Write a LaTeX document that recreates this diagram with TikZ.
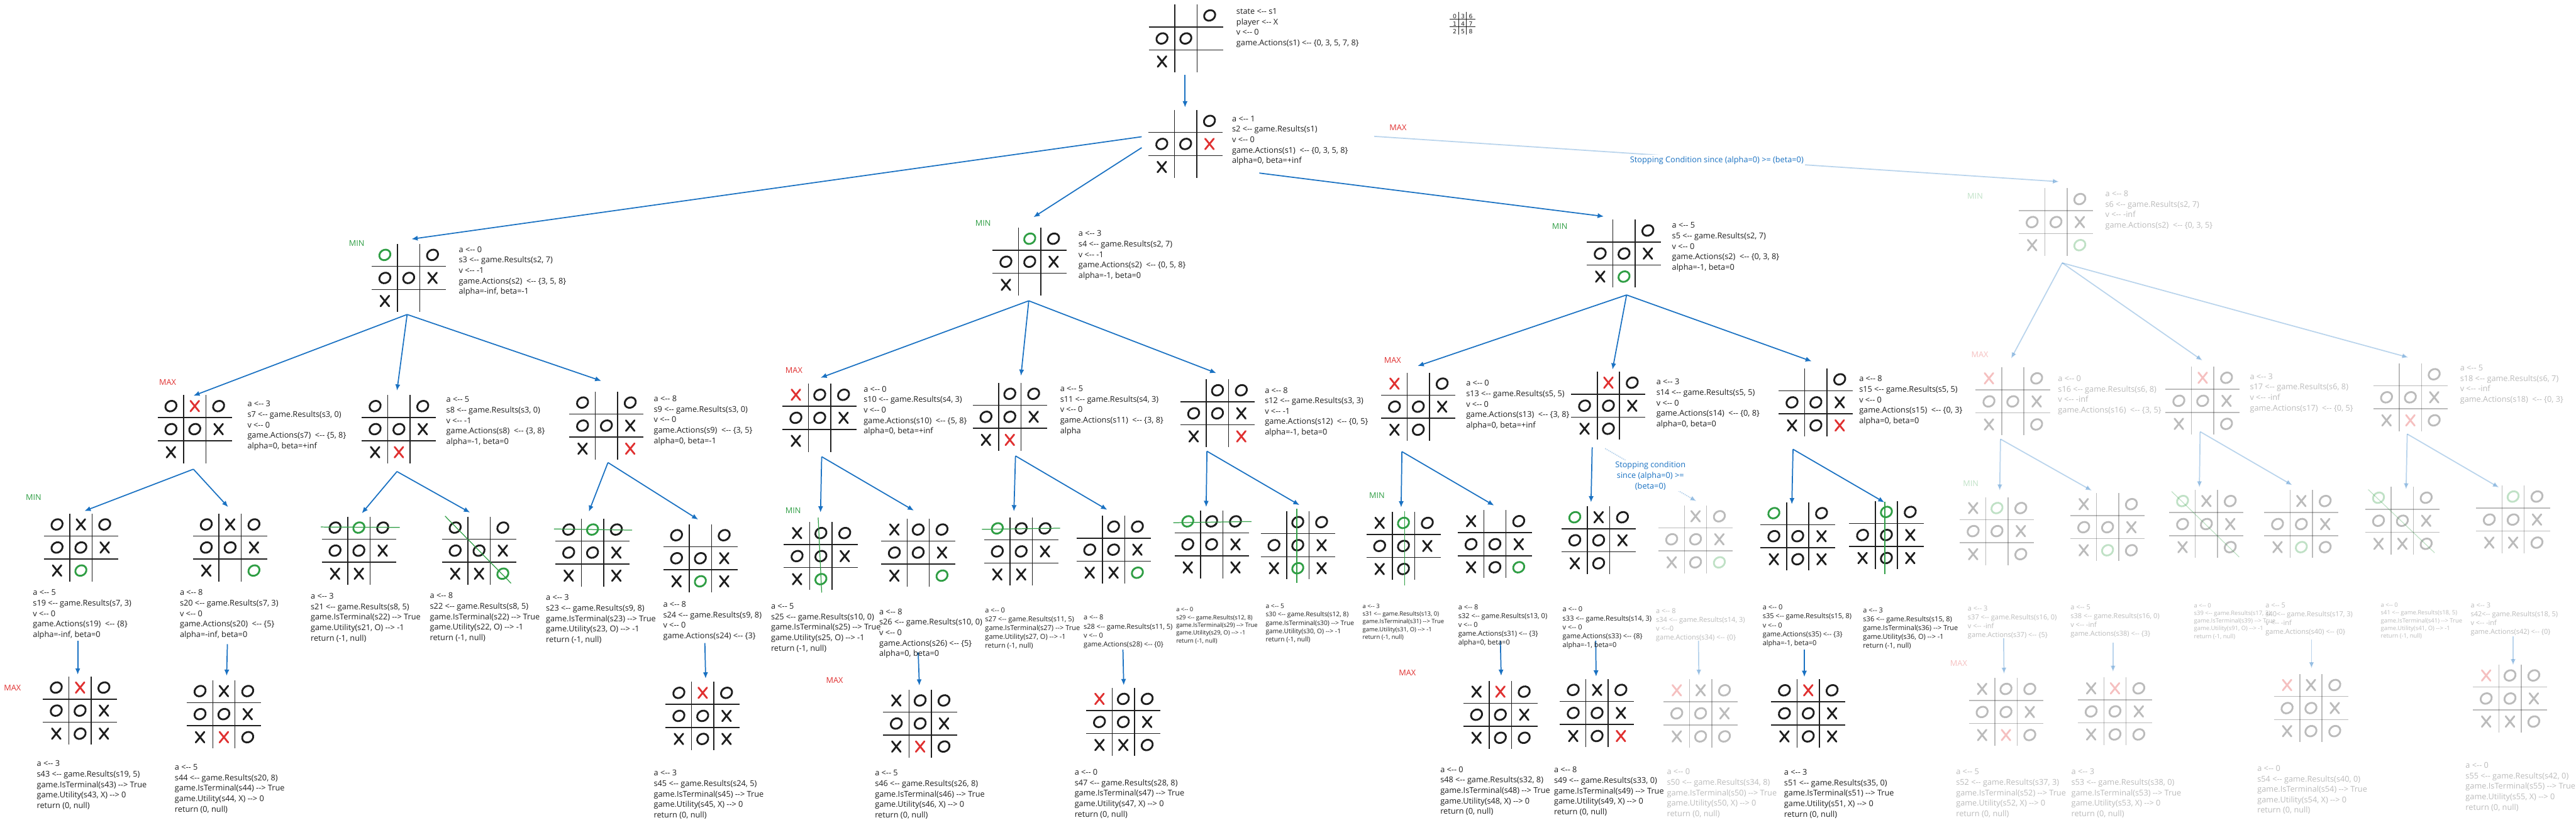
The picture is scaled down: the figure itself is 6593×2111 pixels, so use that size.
\documentclass[tikz,border=0pt]{standalone}
\usepackage{fontspec}
\setmainfont{Open Sans}
\newfontfamily\digitfont{DejaVu Sans}
\usetikzlibrary{arrows.meta}
\definecolor{xblue}{HTML}{1971C2}
\definecolor{xgreen}{HTML}{2F9E44}
\definecolor{xred}{HTML}{E03131}
\definecolor{ink}{HTML}{1E1E1E}
\newcommand\la{<-{}-}
\newcommand\ra{-{}->}
\tikzset{
  gridline/.style={draw=ink, line width=1.2pt},
  oglyph/.style={line width=2.3pt},
  xglyph/.style={line width=2.3pt, line cap=round},
  arr/.style={draw=xblue, line width=1.4pt, -{Latex[length=8pt,width=6.5pt]}},
  farr/.style={arr, opacity=0.3},
  faded/.style={opacity=0.3},
  winline/.style={draw=xgreen, line width=1pt},
  boardnode/.style={inner sep=0pt, minimum width=95pt, minimum height=87pt},
  infoR/.style={inner sep=0pt, anchor=base west, text=ink, font=\fontsize{10.25pt}{13.4pt}\selectfont},
  infoM/.style={infoR, font=\fontsize{8.85pt}{11.35pt}\selectfont},
  infoS/.style={infoR, font=\fontsize{7.6pt}{9.9pt}\selectfont},
  infoSS/.style={infoR, font=\fontsize{8.25pt}{10.75pt}\selectfont},
  lblmin/.style={inner sep=0pt, text=xgreen, font=\fontsize{10.25pt}{12pt}\selectfont},
  lblmax/.style={inner sep=0pt, text=xred, font=\fontsize{10.25pt}{12pt}\selectfont},
  stoptext/.style={inner sep=1.5pt, fill=white, text=xblue, font=\fontsize{10.25pt}{13.4pt}\selectfont},
  digit/.style={inner sep=0pt, text=ink, font=\digitfont\fontsize{7.5pt}{9pt}\selectfont},
  icongrid/.style={draw=ink, line width=1pt},
}
\newcommand\glyph[3]{%
  \if O#1\draw[oglyph,ink,shift={(#2,#3)},rotate=35] (0,0) ellipse [x radius=7.4pt,y radius=6.4pt];\fi
  \if o#1\draw[oglyph,xgreen,shift={(#2,#3)},rotate=35] (0,0) ellipse [x radius=7.4pt,y radius=6.4pt];\fi
  \if X#1\draw[xglyph,ink] (#2-11,#3-13.5) -- (#2+11,#3+13.5) (#2+11,#3-13.5) -- (#2-11,#3+13.5);\fi
  \if x#1\draw[xglyph,xred] (#2-11,#3-13.5) -- (#2+11,#3+13.5) (#2+11,#3-13.5) -- (#2-11,#3+13.5);\fi
}
\newcommand\tttboard[5][]{%
  \begin{scope}[#1]
  \node[boardnode] (#2) at (#3,#4) {};
  \draw[gridline] (#3-28.5,#4-87) -- (#3-28.5,#4+87);
  \draw[gridline] (#3+28.5,#4-87) -- (#3+28.5,#4+87);
  \draw[gridline] (#3-95,#4-29.5) -- (#3+95,#4-29.5);
  \draw[gridline] (#3-95,#4+29.5) -- (#3+95,#4+29.5);
  \foreach \c [count=\i from 0] in {#5}{%
    \pgfmathsetmacro\gx{#3+(mod(\i,3)-1)*61}%
    \pgfmathsetmacro\gy{#4+(floor(\i/3)-1)*59}%
    \glyph{\c}{\gx}{\gy}}%
  \end{scope}}
\newcommand\info[5][infoR]{\node[#1] (#2) at (#3,#4+6) {\begin{tabular}[t]{@{}l@{}}#5\end{tabular}};}
\begin{document}
\begin{tikzpicture}[x=0.5pt,y=-0.5pt]
\fill[white] (0,0) rectangle (6593,2111);
\useasboundingbox (0,0) rectangle (6593,2111);

% ---------- boards ----------
\tttboard{r}{3035}{98.5}{.,.,O,O,O,.,X,.,.}
\tttboard{s2}{3034.5}{368.5}{.,.,O,O,O,x,X,.,.}
\tttboard{s3}{1046}{711.5}{o,.,O,O,O,X,X,.,.}
\tttboard{s4}{2635.5}{670}{.,o,O,O,O,X,X,.,.}
\tttboard{s5}{4156.5}{649}{.,.,O,O,O,X,X,o,.}
\tttboard[faded]{s6}{5262}{568.5}{.,.,O,O,O,X,X,.,o}
\tttboard{s7}{498.5}{1098.5}{O,x,O,O,O,X,X,.,.}
\tttboard{s8}{1021}{1098.5}{O,.,O,O,O,X,X,x,.}
\tttboard{s9}{1552}{1089.5}{O,.,O,O,O,X,X,.,x}
\tttboard{s10}{2098}{1069.5}{x,O,O,O,O,X,X,.,.}
\tttboard{s11}{2584.5}{1067}{.,O,O,O,O,X,X,x,.}
\tttboard{s12}{3116}{1058}{.,O,O,O,O,X,X,.,x}
\tttboard{s13}{3630}{1041}{x,.,O,O,O,X,X,O,.}
\tttboard{s14}{4116.5}{1038.5}{.,x,O,O,O,X,X,O,.}
\tttboard{s15}{4647.5}{1030}{.,.,O,O,O,X,X,O,x}
\tttboard[faded]{s16}{5151.5}{1027.5}{x,.,O,O,O,X,X,.,O}
\tttboard[faded]{s17}{5637.5}{1026}{.,x,O,O,O,X,X,.,O}
\tttboard[faded]{s18}{6169}{1017}{.,.,O,O,O,X,X,x,O}
\tttboard{s19}{207}{1401.5}{O,X,O,O,O,X,X,o,.}
\tttboard{s20}{589}{1401.5}{O,X,O,O,O,X,X,.,o}
\tttboard{s21}{918.5}{1409.5}{O,o,O,O,O,X,X,X,.}
\tttboard{s22}{1226}{1409.5}{O,.,O,O,O,X,X,X,o}
\tttboard{s23}{1516.5}{1414.5}{O,o,O,O,O,X,X,.,X}
\tttboard{s24}{1792.5}{1429}{O,.,O,O,O,X,X,o,X}
\tttboard{s25}{2101}{1423.5}{X,O,O,O,O,X,X,o,.}
\tttboard{s26}{2350}{1414.5}{X,O,O,O,O,X,X,.,o}
\tttboard{s27}{2613.5}{1411.5}{o,O,O,O,O,X,X,X,.}
\tttboard{s28}{2850}{1407}{.,O,O,O,O,X,X,X,o}
\tttboard{s29}{3101}{1393.5}{o,O,O,O,O,X,X,.,X}
\tttboard{s30}{3321.5}{1395.5}{.,O,O,O,O,X,X,o,X}
\tttboard{s31}{3592}{1397.5}{X,o,O,O,O,X,X,O,.}
\tttboard{s32}{3826}{1393}{X,.,O,O,O,X,X,O,o}
\tttboard{s33}{4091.5}{1383}{o,X,O,O,O,X,X,O,.}
\tttboard[faded]{s34}{4339.5}{1380.5}{.,X,O,O,O,X,X,O,o}
\tttboard{s35}{4601}{1372.5}{o,.,O,O,O,X,X,O,X}
\tttboard{s36}{4828}{1369.5}{.,o,O,O,O,X,X,O,X}
\tttboard[faded]{s37}{5111}{1359.5}{X,o,O,O,O,X,X,.,O}
\tttboard[faded]{s38}{5394}{1349.5}{X,.,O,O,O,X,X,o,O}
\tttboard[faded]{s39}{5647}{1341.5}{o,X,O,O,O,X,X,.,O}
\tttboard[faded]{s40}{5890}{1341.5}{.,X,O,O,O,X,X,o,O}
\tttboard[faded]{s41}{6148.5}{1333}{o,.,O,O,O,X,X,X,O}
\tttboard[faded]{s42}{6432}{1330}{.,o,O,O,O,X,X,X,O}
\tttboard{s43}{205}{1819}{O,x,O,O,O,X,X,O,X}
\tttboard{s44}{573}{1828}{O,X,O,O,O,X,X,x,O}
\tttboard{s45}{1798.5}{1832.5}{O,x,O,O,O,X,X,O,X}
\tttboard{s46}{2355}{1852}{X,O,O,O,O,X,X,x,O}
\tttboard{s47}{2875}{1848}{x,O,O,O,O,X,X,X,O}
\tttboard{s48}{3840}{1829.5}{X,x,O,O,O,X,X,O,O}
\tttboard{s49}{4087.5}{1825}{O,X,O,O,O,X,X,O,x}
\tttboard[faded]{s50}{4352.5}{1826}{x,X,O,O,O,X,X,O,O}
\tttboard{s51}{4628}{1826}{O,x,O,O,O,X,X,O,X}
\tttboard[faded]{s52}{5134}{1822.5}{X,O,O,O,O,X,X,x,O}
\tttboard[faded]{s53}{5413}{1821}{X,x,O,O,O,X,X,O,O}
\tttboard[faded]{s54}{5914.5}{1812.5}{x,X,O,O,O,X,X,O,O}
\tttboard[faded]{s55}{6424}{1788}{x,O,O,O,O,X,X,X,O}

% ---------- winning lines ----------
\draw[winline] (821,1349) -- (1023,1350);
\draw[winline] (1139,1321) -- (1308,1493);
\draw[winline] (1418,1354) -- (1618,1357);
\draw[winline] (2094,1325) -- (2103,1517);
\draw[winline] (2513,1355) -- (2713,1352);
\draw[winline] (3003,1338) -- (3203,1335);
\draw[winline] (3319,1302) -- (3319,1492);
\draw[winline] (3595,1309) -- (3595,1498);
\draw[winline] (4824,1284) -- (4824,1470);
\draw[winline,faded] (5558,1258) -- (5731,1426);
\draw[winline,faded] (6061,1253) -- (6231,1415);

% ---------- connector end points ----------
\coordinate (r-out) at (3033,192);   \coordinate (s2-in) at (3033,275);
\coordinate (s2-o1) at (2922,350);   \coordinate (s2-o2) at (2922,378);
\coordinate (s2-o3) at (3223,443);   \coordinate (s2-o4) at (3517,349);
\coordinate (s3-in) at (1053,612);   \coordinate (s4-in) at (2645,556);
\coordinate (s5-in) at (4105,554);   \coordinate (s6-in) at (5270,465);
\coordinate (s3-out) at (1042,805);  \coordinate (s4-out) at (2633,770);
\coordinate (s5-out) at (4163,755);  \coordinate (s6-out) at (5278,673);
\coordinate (s7-in) at (495,1013);   \coordinate (s8-in) at (1016,1000);
\coordinate (s9-in) at (1539,975);   \coordinate (s10-in) at (2100,967);
\coordinate (s11-in) at (2613,962);  \coordinate (s12-in) at (3113,955);
\coordinate (s13-in) at (3628,937);  \coordinate (s14-in) at (4127,946);
\coordinate (s15-in) at (4637,925);  \coordinate (s16-in) at (5147,918);
\coordinate (s17-in) at (5637,923);  \coordinate (s18-in) at (6164,915);
\coordinate (s7-out) at (495,1201);  \coordinate (s8-out) at (1016,1207);
\coordinate (s9-out) at (1556,1184); \coordinate (s10-out) at (2103,1169);
\coordinate (s11-out) at (2599,1167);\coordinate (s12-out) at (3089,1155);
\coordinate (s13-out) at (3588,1156);\coordinate (s14-out) at (4075,1145);
\coordinate (s14-o2) at (4108,1148); \coordinate (s15-out) at (4589,1150);
\coordinate (s16-out) at (5120,1124);\coordinate (s17-out) at (5631,1105);
\coordinate (s18-out) at (6161,1111);
\coordinate (s19-in) at (216,1308);  \coordinate (s20-in) at (584,1298);
\coordinate (s21-in) at (926,1314);  \coordinate (s22-in) at (1203,1312);
\coordinate (s23-in) at (1507,1310); \coordinate (s24-in) at (1787,1330);
\coordinate (s25-in) at (2100,1312); \coordinate (s26-in) at (2339,1307);
\coordinate (s27-in) at (2595,1309); \coordinate (s28-in) at (2834,1305);
\coordinate (s29-in) at (3087,1298); \coordinate (s30-in) at (3326,1293);
\coordinate (s31-in) at (3586,1299); \coordinate (s32-in) at (3824,1294);
\coordinate (s33-in) at (4072,1286); \coordinate (s34-in) at (4342,1283);
\coordinate (s35-in) at (4586,1291); \coordinate (s36-in) at (4823,1286);
\coordinate (s37-in) at (5118,1256); \coordinate (s38-in) at (5354,1256);
\coordinate (s39-in) at (5629,1248); \coordinate (s40-in) at (5867,1242);
\coordinate (s41-in) at (6158,1253); \coordinate (s42-in) at (6396,1248);
\coordinate (s19-out) at (199,1640); \coordinate (s43-in) at (199,1727);
\coordinate (s20-out) at (582,1649); \coordinate (s44-in) at (580,1730);
\coordinate (s24-out) at (1804,1646);\coordinate (s45-in) at (1806,1737);
\coordinate (s26-out) at (2350,1670);\coordinate (s46-in) at (2353,1755);
\coordinate (s28-out) at (2874,1663);\coordinate (s47-in) at (2876,1754);
\coordinate (s32-out) at (3840,1640);\coordinate (s48-in) at (3842,1730);
\coordinate (s33-out) at (4084,1640);\coordinate (s49-in) at (4085,1732);
\coordinate (s34-out) at (4347,1640);\coordinate (s50-in) at (4348,1730);
\coordinate (s35-out) at (4618,1662);\coordinate (s51-in) at (4618,1733);
\coordinate (s37-out) at (5128,1634);\coordinate (s52-in) at (5129,1725);
\coordinate (s38-out) at (5408,1645);\coordinate (s53-in) at (5408,1720);
\coordinate (s40-out) at (5916,1637);\coordinate (s54-in) at (5916,1711);
\coordinate (s42-out) at (6432,1629);\coordinate (s55-in) at (6432,1703);

% ---------- connectors ----------
\draw[arr] (r-out) -- (s2-in);
\draw[arr] (s2-o1) -- (s3-in);
\draw[arr] (s2-o2) -- (s4-in);
\draw[arr] (s2-o3) -- (s5-in);
\draw[farr] (s2-o4) -- (s6-in);
\draw[arr] (s3-out) -- (s7-in);
\draw[arr] (s3-out) -- (s8-in);
\draw[arr] (s3-out) -- (s9-in);
\draw[arr] (s4-out) -- (s10-in);
\draw[arr] (s4-out) -- (s11-in);
\draw[arr] (s4-out) -- (s12-in);
\draw[arr] (s5-out) -- (s13-in);
\draw[arr] (s5-out) -- (s14-in);
\draw[arr] (s5-out) -- (s15-in);
\draw[farr] (s6-out) -- (s16-in);
\draw[farr] (s6-out) -- (s17-in);
\draw[farr] (s6-out) -- (s18-in);
\draw[arr] (s7-out) -- (s19-in);
\draw[arr] (s7-out) -- (s20-in);
\draw[arr] (s8-out) -- (s21-in);
\draw[arr] (s8-out) -- (s22-in);
\draw[arr] (s9-out) -- (s23-in);
\draw[arr] (s9-out) -- (s24-in);
\draw[arr] (s10-out) -- (s25-in);
\draw[arr] (s10-out) -- (s26-in);
\draw[arr] (s11-out) -- (s27-in);
\draw[arr] (s11-out) -- (s28-in);
\draw[arr] (s12-out) -- (s29-in);
\draw[arr] (s12-out) -- (s30-in);
\draw[arr] (s13-out) -- (s31-in);
\draw[arr] (s13-out) -- (s32-in);
\draw[arr] (s14-out) -- (s33-in);
\draw[farr, densely dotted] (s14-o2) -- (s34-in);
\draw[arr] (s15-out) -- (s35-in);
\draw[arr] (s15-out) -- (s36-in);
\draw[farr] (s16-out) -- (s37-in);
\draw[farr] (s16-out) -- (s38-in);
\draw[farr] (s17-out) -- (s39-in);
\draw[farr] (s17-out) -- (s40-in);
\draw[farr] (s18-out) -- (s41-in);
\draw[farr] (s18-out) -- (s42-in);
\draw[arr] (s19-out) -- (s43-in);
\draw[arr] (s20-out) -- (s44-in);
\draw[arr] (s24-out) -- (s45-in);
\draw[arr] (s26-out) -- (s46-in);
\draw[arr] (s28-out) -- (s47-in);
\draw[arr] (s32-out) -- (s48-in);
\draw[arr] (s33-out) -- (s49-in);
\draw[farr] (s34-out) -- (s50-in);
\draw[arr] (s35-out) -- (s51-in);
\draw[farr] (s37-out) -- (s52-in);
\draw[farr] (s38-out) -- (s53-in);
\draw[farr] (s40-out) -- (s54-in);
\draw[farr] (s42-out) -- (s55-in);

% ---------- stopping condition notes ----------
\node[stoptext] (stop1) at (4394,410) {Stopping Condition since (alpha=0) >= (beta=0)};
\node[stoptext, align=center] (stop2) at (4224,1218) {Stopping condition\\since (alpha=0) >=\\(beta=0)};

% ---------- texts ----------
\info{t1}{3164}{30}{state \la{} s1\\player \la{} X\\v \la{} 0\\game.Actions(s1) \la{} \{0, 3, 5, 7, 8\}}
\info{t2}{3153}{305}{a \la{} 1\\s2 \la{} game.Results(s1)\\v \la{} 0\\game.Actions(s1)\ \ \la{} \{0, 3, 5, 8\}\\alpha=0, beta=+inf}
\info{t3}{1174}{640}{a \la{} 0\\s3 \la{} game.Results(s2, 7)\\v \la{} -1\\game.Actions(s2)\ \ \la{} \{3, 5, 8\}\\alpha=-inf, beta=-1}
\info{t4}{2760}{599}{a \la{} 3\\s4 \la{} game.Results(s2, 7)\\v \la{} -1\\game.Actions(s2)\ \ \la{} \{0, 5, 8\}\\alpha=-1, beta=0}
\info{t5}{4279}{578}{a \la{} 5\\s5 \la{} game.Results(s2, 7)\\v \la{} 0\\game.Actions(s2)\ \ \la{} \{0, 3, 8\}\\alpha=-1, beta=0}
\info[infoR,faded]{t6}{5388}{497}{a \la{} 8\\s6 \la{} game.Results(s2, 7)\\v \la{} -inf\\game.Actions(s2)\ \ \la{} \{0, 3, 5\}}
\info{t7}{633}{1035}{a \la{} 3\\s7 \la{} game.Results(s3, 0)\\v \la{} 0\\game.Actions(s7)\ \ \la{} \{5, 8\}\\alpha=0, beta=+inf}
\info{t8}{1142}{1024}{a \la{} 5\\s8 \la{} game.Results(s3, 0)\\v \la{} -1\\game.Actions(s8)\ \ \la{} \{3, 8\}\\alpha=-1, beta=0}
\info{t9}{1673}{1022}{a \la{} 8\\s9 \la{} game.Results(s3, 0)\\v \la{} 0\\game.Actions(s9)\ \ \la{} \{3, 5\}\\alpha=0, beta=-1}
\info{t10}{2210}{997}{a \la{} 0\\s10 \la{} game.Results(s4, 3)\\v \la{} 0\\game.Actions(s10)\ \ \la{} \{5, 8\}\\alpha=0, beta=+inf}
\info{t11}{2713}{996}{a \la{} 5\\s11 \la{} game.Results(s4, 3)\\v \la{} 0\\game.Actions(s11)\ \ \la{} \{3, 8\}\\alpha}
\info{t12}{3237}{1000}{a \la{} 8\\s12 \la{} game.Results(s3, 3)\\v \la{} -1\\game.Actions(s12)\ \ \la{} \{0, 5\}\\alpha=-1, beta=0}
\info{t13}{3752}{982}{a \la{} 0\\s13 \la{} game.Results(s5, 5)\\v \la{} 0\\game.Actions(s13)\ \ \la{} \{3, 8\}\\alpha=0, beta=+inf}
\info{t14}{4239}{979}{a \la{} 3\\s14 \la{} game.Results(s5, 5)\\v \la{} 0\\game.Actions(s14)\ \ \la{} \{0, 8\}\\alpha=0, beta=0}
\info{t15}{4758}{971}{a \la{} 8\\s15 \la{} game.Results(s5, 5)\\v \la{} 0\\game.Actions(s15)\ \ \la{} \{0, 3\}\\alpha=0, beta=0}
\info[infoR,faded]{t16}{5267}{970}{a \la{} 0\\s16 \la{} game.Results(s6, 8)\\v \la{} -inf\\game.Actions(s16)\ \ \la{} \{3, 5\}}
\info[infoR,faded]{t17}{5758}{965}{a \la{} 3\\s17 \la{} game.Results(s6, 8)\\v \la{} -inf\\game.Actions(s17)\ \ \la{} \{0, 5\}}
\info[infoR,faded]{t18}{6296}{943}{a \la{} 5\\s18 \la{} game.Results(s6, 7)\\v \la{} -inf\\game.Actions(s18)\ \ \la{} \{0, 3\}}
\info{t19}{84}{1518}{a \la{} 5\\s19 \la{} game.Results(s7, 3)\\v \la{} 0\\game.Actions(s19)\ \ \la{} \{8\}\\alpha=-inf, beta=0}
\info{t20}{460}{1518}{a \la{} 8\\s20 \la{} game.Results(s7, 3)\\v \la{} 0\\game.Actions(s20)\ \ \la{} \{5\}\\alpha=-inf, beta=0}
\info{t21}{795}{1527}{a \la{} 3\\s21 \la{} game.Results(s8, 5)\\game.IsTerminal(s22) \ra{} True\\game.Utility(s21, O) \ra{} -1\\return (-1, null)}
\info{t22}{1100}{1526}{a \la{} 8\\s22 \la{} game.Results(s8, 5)\\game.IsTerminal(s22) \ra{} True\\game.Utility(s22, O) \ra{} -1\\return (-1, null)}
\info{t23}{1397}{1531}{a \la{} 3\\s23 \la{} game.Results(s9, 8)\\game.IsTerminal(s23) \ra{} True\\game.Utility(s23, O) \ra{} -1\\return (-1, null)}
\info{t24}{1697}{1548}{a \la{} 8\\s24 \la{} game.Results(s9, 8)\\v \la{} 0\\game.Actions(s24) \la{} \{3\}}
\info{t25}{1973}{1553}{a \la{} 5\\s25 \la{} game.Results(s10, 0)\\game.IsTerminal(s25) \ra{} True\\game.Utility(s25, O) \ra{} -1\\return (-1, null)}
\info{t26}{2250}{1567}{a \la{} 8\\s26 \la{} game.Results(s10, 0)\\v \la{} 0\\game.Actions(s26) \la{} \{5\}\\alpha=0, beta=0}
\info[infoM]{t27}{2521}{1562}{a \la{} 0\\s27 \la{} game.Results(s11, 5)\\game.IsTerminal(s27) \ra{} True\\game.Utility(s27, O) \ra{} -1\\return (-1, null)}
\info[infoM]{t28}{2773}{1581}{a \la{} 8\\s28 \la{} game.Results(s11, 5)\\v \la{} 0\\game.Actions(s28) \la{} \{0\}}
\info[infoS]{t29}{3010}{1560}{a \la{} 0\\s29 \la{} game.Results(s12, 8)\\game.IsTerminal(s29) \ra{} True\\game.Utility(s29, O) \ra{} -1\\return (-1, null)}
\info[infoSS]{t30}{3239}{1551}{a \la{} 5\\s30 \la{} game.Results(s12, 8)\\game.IsTerminal(s30) \ra{} True\\game.Utility(s30, O) \ra{} -1\\return (-1, null)}
\info[infoS]{t31}{3487}{1551}{a \la{} 3\\s31 \la{} game.Results(s13, 0)\\game.IsTerminal(s31) \ra{} True\\game.Utility(s31, O) \ra{} -1\\return (-1, null)}
\info[infoM]{t32}{3732}{1554}{a \la{} 8\\s32 \la{} game.Results(s13, 0)\\v \la{} 0\\game.Actions(s31) \la{} \{3\}\\alpha=0, beta=0}
\info[infoM]{t33}{3999}{1560}{a \la{} 0\\s33 \la{} game.Results(s14, 3)\\v \la{} 0\\game.Actions(s33) \la{} \{8\}\\alpha=-1, beta=0}
\info[infoM,faded]{t34}{4238}{1564}{a \la{} 8\\s34 \la{} game.Results(s14, 3)\\v \la{}0\\game.Actions(s34) \la{} \{0\}}
\info[infoM]{t35}{4511}{1555}{a \la{} 0\\s35 \la{} game.Results(s15, 8)\\v \la{} 0\\game.Actions(s35) \la{} \{3\}\\alpha=-1, beta=0}
\info[infoM]{t36}{4768}{1562}{a \la{} 3\\s36 \la{} game.Results(s15, 8)\\game.IsTerminal(s36) \ra{} True\\game.Utility(s36, O) \ra{} -1\\return (-1, null)}
\info[infoM,faded]{t37}{5036}{1557}{a \la{} 3\\s37 \la{} game.Results(s16, 0)\\v \la{} -inf\\game.Actions(s37) \la{} \{5\}}
\info[infoM,faded]{t38}{5299}{1554}{a \la{} 5\\s38 \la{} game.Results(s16, 0)\\v \la{} -inf\\game.Actions(s38) \la{} \{3\}}
\info[infoS,faded]{t39}{5615}{1549}{a \la{} 0\\s39 \la{} game.Results(s17, 3)\\game.IsTerminal(s39) \ra{} True\\game.Utility(s91, O) \ra{} -1\\return (-1, null)}
\info[infoM,faded]{t40}{5798}{1549}{a \la{} 5\\s40\la{} game.Results(s17, 3)\\v \la{} -inf\\game.Actions(s40) \la{} \{0\}}
\info[infoS,faded]{t41}{6093}{1548}{a \la{} 0\\s41 \la{} game.Results(s18, 5)\\game.IsTerminal(s41) \ra{} True\\game.Utility(s41, O) \ra{} -1\\return (-1, null)}
\info[infoM,faded]{t42}{6323}{1549}{a \la{} 3\\s42\la{} game.Results(s18, 5)\\v \la{} -inf\\game.Actions(s42) \la{} \{0\}}
\info{t43}{94}{1956}{a \la{} 3\\s43 \la{} game.Results(s19, 5)\\game.IsTerminal(s43) \ra{} True\\game.Utility(s43, X) \ra{} 0\\return (0, null)}
\info{t44}{447}{1965}{a \la{} 5\\s44 \la{} game.Results(s20, 8)\\game.IsTerminal(s44) \ra{} True\\game.Utility(s44, X) \ra{} 0\\return (0, null)}
\info{t45}{1673}{1980}{a \la{} 3\\s45 \la{} game.Results(s24, 5)\\game.IsTerminal(s45) \ra{} True\\game.Utility(s45, X) \ra{} 0\\return (0, null)}
\info{t46}{2239}{1980}{a \la{} 5\\s46 \la{} game.Results(s26, 8)\\game.IsTerminal(s46) \ra{} True\\game.Utility(s46, X) \ra{} 0\\return (0, null)}
\info{t47}{2750}{1978}{a \la{} 0\\s47 \la{} game.Results(s28, 8)\\game.IsTerminal(s47) \ra{} True\\game.Utility(s47, X) \ra{} 0\\return (0, null)}
\info{t48}{3686}{1971}{a \la{} 0\\s48 \la{} game.Results(s32, 8)\\game.IsTerminal(s48) \ra{} True\\game.Utility(s48, X) \ra{} 0\\return (0, null)}
\info{t49}{3977}{1972}{a \la{} 8\\s49 \la{} game.Results(s33, 0)\\game.IsTerminal(s49) \ra{} True\\game.Utility(s49, X) \ra{} 0\\return (0, null)}
\info[infoR,faded]{t50}{4266}{1977}{a \la{} 0\\s50 \la{} game.Results(s34, 8)\\game.IsTerminal(s50) \ra{} True\\game.Utility(s50, X) \ra{} 0\\return (0, null)}
\info{t51}{4566}{1978}{a \la{} 3\\s51 \la{} game.Results(s35, 0)\\game.IsTerminal(s51) \ra{} True\\game.Utility(s51, X) \ra{} 0\\return (0, null)}
\info[infoR,faded]{t52}{5006}{1977}{a \la{} 5\\s52 \la{} game.Results(s37, 3)\\game.IsTerminal(s52) \ra{} True\\game.Utility(s52, X) \ra{} 0\\return (0, null)}
\info[infoR,faded]{t53}{5301}{1977}{a \la{} 3\\s53 \la{} game.Results(s38, 0)\\game.IsTerminal(s53) \ra{} True\\game.Utility(s53, X) \ra{} 0\\return (0, null)}
\info[infoR,faded]{t54}{5777}{1968}{a \la{} 0\\s54 \la{} game.Results(s40, 0)\\game.IsTerminal(s54) \ra{} True\\game.Utility(s54, X) \ra{} 0\\return (0, null)}
\info[infoR,faded]{t55}{6310}{1960}{a \la{} 0\\s55 \la{} game.Results(s42, 0)\\game.IsTerminal(s55) \ra{} True\\game.Utility(s55, X) \ra{} 0\\return (0, null)}

% ---------- MIN / MAX labels ----------
\node[lblmax] (max1) at (3578,326) {MAX};
\node[lblmin] (min1) at (913,623) {MIN};
\node[lblmin] (min2) at (2516,571) {MIN};
\node[lblmin] (min3) at (3992,580) {MIN};
\node[lblmin,faded] (min4) at (5055,502) {MIN};
\node[lblmax] (max2) at (429,978) {MAX};
\node[lblmax] (max3) at (2032,948) {MAX};
\node[lblmax] (max4) at (3564,922) {MAX};
\node[lblmax,faded] (max5) at (5067,907) {MAX};
\node[lblmin] (min5) at (86,1273) {MIN};
\node[lblmin] (min6) at (2030,1307) {MIN};
\node[lblmin] (min7) at (3524,1268) {MIN};
\node[lblmin,faded] (min8) at (5044,1237) {MIN};
\node[lblmax] (max6) at (32,1761) {MAX};
\node[lblmax] (max7) at (2136,1742) {MAX};
\node[lblmax] (max8) at (3602,1722) {MAX};
\node[lblmax,faded] (max9) at (5013,1698) {MAX};

% ---------- position key ----------
\draw[icongrid] (3734,30) -- (3734,89);
\draw[icongrid] (3753,30) -- (3753,89);
\draw[icongrid] (3710,49) -- (3776,49);
\draw[icongrid] (3710,69) -- (3776,69);
\node[digit] (k0) at (3723,42) {0};
\node[digit] (k3) at (3744,42) {3};
\node[digit] (k6) at (3764,42) {6};
\node[digit] (k1) at (3723,62) {1};
\node[digit] (k4) at (3744,62) {4};
\node[digit] (k7) at (3764,62) {7};
\node[digit] (k2) at (3723,81) {2};
\node[digit] (k5) at (3744,81) {5};
\node[digit] (k8) at (3764,81) {8};
\end{tikzpicture}
\end{document}
